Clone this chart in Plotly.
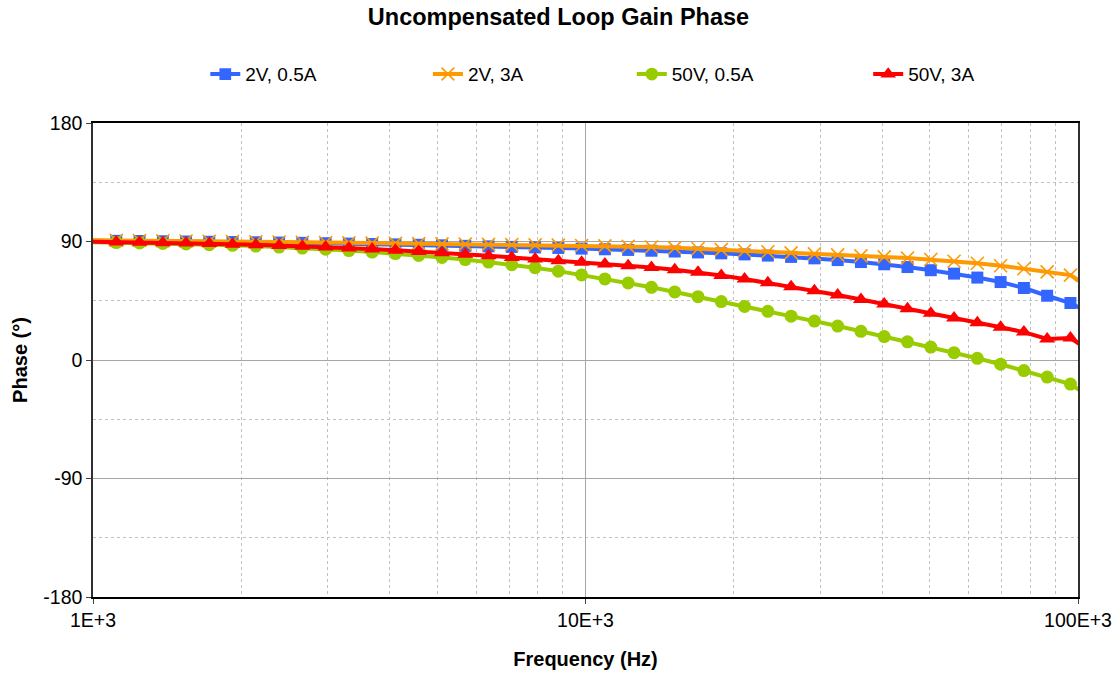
import plotly.graph_objects as go

# Frequency points (Hz), log-spaced as in the measurement sweep
freq = [1000, 1115, 1243, 1386, 1545, 1722, 1920, 2141, 2387, 2661,
        2967, 3308, 3688, 4112, 4585, 5112, 5700, 6355, 7085, 7900,
        8808, 9820, 10949, 12208, 13612, 15176, 16921, 18866, 21035, 23454,
        26150, 29157, 32509, 36247, 40414, 45061, 50241, 56017, 62458, 69638,
        77644, 86571, 96524, 107621]

phase_2v_05a = [90.6, 90.5, 90.4, 90.2, 90.0, 89.8, 89.6, 89.4, 89.2, 89.0,
                88.7, 88.4, 88.1, 87.8, 87.5, 87.1, 86.7, 86.3, 85.9, 85.5,
                85.1, 84.6, 84.1, 83.6, 83.0, 82.4, 81.7, 81.0, 80.2, 79.3,
                78.3, 77.2, 75.9, 74.4, 72.7, 70.6, 68.2, 65.6, 62.6, 59.2,
                54.7, 48.8, 43.3, 34.0]

phase_2v_3a = [91.0, 90.9, 90.8, 90.6, 90.4, 90.2, 90.0, 89.8, 89.6, 89.4,
               89.2, 89.0, 88.8, 88.6, 88.4, 88.2, 88.0, 87.8, 87.6, 87.4,
               87.2, 87.0, 86.7, 86.3, 85.8, 85.2, 84.5, 83.8, 83.0, 82.2,
               81.4, 80.6, 79.8, 79.1, 78.3, 77.4, 76.3, 75.0, 73.5, 71.6,
               69.3, 66.9, 64.5, 53.0]

phase_50v_05a = [89.5, 89.2, 88.9, 88.5, 88.1, 87.6, 87.1, 86.5, 85.8, 85.0,
                 84.1, 83.1, 82.0, 80.8, 79.4, 77.9, 76.3, 74.4, 72.4, 70.1,
                 67.5, 64.6, 61.6, 58.5, 55.2, 51.7, 48.1, 44.4, 40.7, 37.0,
                 33.3, 29.6, 25.8, 21.8, 17.8, 13.8, 9.8, 5.6, 1.3, -3.2,
                 -8.0, -13.0, -18.3, -30.0]

phase_50v_3a = [89.8, 89.6, 89.4, 89.1, 88.8, 88.4, 88.0, 87.5, 87.0, 86.4,
                85.8, 85.1, 84.3, 83.4, 82.5, 81.5, 80.4, 79.2, 77.9, 76.7,
                75.4, 74.2, 73.0, 71.6, 70.2, 68.6, 66.6, 64.2, 61.5, 58.6,
                55.6, 52.6, 49.4, 45.9, 42.5, 38.9, 35.5, 31.9, 28.2, 24.9,
                21.2, 16.0, 16.7, 5.0]

series_names = ["2V, 0.5A", "2V, 3A", "50V, 0.5A", "50V, 3A"]
x_tickvals = [1000, 10000, 100000]
x_ticktext = ["1E+3", "10E+3", "100E+3"]
y_tickvals = [-180, -90, 0, 90, 180]
y_ticktext = ["-180", "-90", "0", "90", "180"]

FONT = "Liberation Sans, Arial, sans-serif"
X_MAX = 100000

series = [
    (series_names[0], phase_2v_05a, "#3366FF", "square", 12, 0),
    (series_names[1], phase_2v_3a, "#FF9900", "x-thin-open", 13, 1.6),
    (series_names[2], phase_50v_05a, "#99CC00", "circle", 13, 0),
    (series_names[3], phase_50v_3a, "#FF0000", "triangle-up", 14, 0),
]
legend_ids = ["legend", "legend2", "legend3", "legend4"]

fig = go.Figure()
for (name, vals, color, sym, size, lw), lid in zip(series, legend_ids):
    sizes = [size if f <= X_MAX else 0 for f in freq]
    mk = dict(symbol=sym, size=sizes, color=color, opacity=1,
              line=dict(color=color, width=lw))
    fig.add_trace(go.Scatter(
        x=freq, y=vals, name=name, mode="lines+markers",
        line=dict(color=color, width=4),
        marker=mk, cliponaxis=False, legend=lid,
    ))

minor_x = [m * d for d in (1000, 10000) for m in range(2, 10)]

legend_common = dict(
    orientation="h", yanchor="middle", y=1.103, xanchor="left",
    font=dict(family=FONT, size=19, color="black"),
    bgcolor="rgba(0,0,0,0)", borderwidth=0,
)
legend_x = [0.114, 0.340, 0.547, 0.787]

fig.update_layout(
    width=1117, height=673,
    margin=dict(l=93, r=39, t=123, b=76),
    paper_bgcolor="white", plot_bgcolor="white",
    title=dict(text="<b>Uncompensated Loop Gain Phase</b>", x=0.5, xanchor="center",
               y=0.975, yanchor="middle", font=dict(family=FONT, size=23.5, color="black")),
    showlegend=True,
    legend=dict(x=legend_x[0], **legend_common),
    legend2=dict(x=legend_x[1], **legend_common),
    legend3=dict(x=legend_x[2], **legend_common),
    legend4=dict(x=legend_x[3], **legend_common),
    xaxis=dict(
        type="log", range=[3, 5], automargin=False,
        tickvals=x_tickvals, ticktext=x_ticktext,
        tickfont=dict(family=FONT, size=19.5, color="black"),
        showgrid=True, gridcolor="#a6a6a6", gridwidth=1,
        minor=dict(tickvals=minor_x, showgrid=True, gridcolor="#c0c0c0",
                   griddash="dot", gridwidth=1, ticks=""),
        showline=True, linecolor="black", linewidth=1.5, mirror=True,
        ticks="outside", ticklen=5, tickcolor="#404040",
        title=dict(text="<b>Frequency (Hz)</b>", font=dict(family=FONT, size=20, color="black"),
                   standoff=22),
        zeroline=False,
    ),
    yaxis=dict(
        range=[-180, 180], tickvals=y_tickvals, ticktext=y_ticktext, automargin=False,
        tickfont=dict(family=FONT, size=19.5, color="black"),
        showgrid=True, gridcolor="#a6a6a6", gridwidth=1,
        minor=dict(dtick=45, tick0=0, showgrid=True, gridcolor="#c0c0c0",
                   griddash="dot", gridwidth=1, ticks=""),
        showline=True, linecolor="#303030", linewidth=1.5, mirror=True,
        ticks="outside", ticklen=5, tickcolor="#404040",
        title=dict(text="<b>Phase (°)</b>", font=dict(family=FONT, size=20, color="black"),
                   standoff=10),
        zeroline=False,
    ),
)

fig.write_html("out.html")
